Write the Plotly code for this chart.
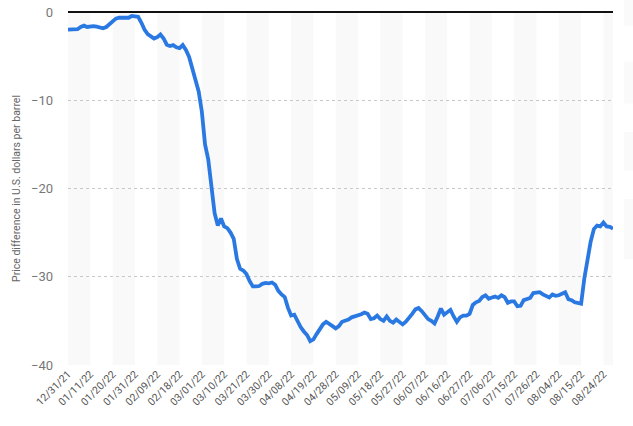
import pandas as pd
import plotly.graph_objects as go

# Trading days (weekdays) covered by the series
dates = [d.strftime("%m/%d/%y") for d in pd.bdate_range("2021-12-31", "2022-08-29")]

values = [
    -2.0, -2.0, -1.95, -1.95, -1.7, -1.55, -1.7, -1.6, -1.6, -1.65,
    -1.75, -1.85, -1.7, -1.4, -1.05, -0.75, -0.65, -0.65, -0.65, -0.65,
    -0.45, -0.45, -0.55, -1.2, -2.0, -2.5, -2.7, -3.0, -2.85, -2.55,
    -3.0, -3.7, -3.85, -3.75, -4.0, -4.1, -3.75, -4.3, -5.1, -6.3,
    -7.5, -9.0, -11.3, -15.0, -16.7, -20.0, -22.8, -24.2, -23.4, -24.3,
    -24.5, -25.0, -25.7, -28.0, -29.1, -29.3, -29.7, -30.5, -31.1, -31.1,
    -31.05, -30.8, -30.7, -30.75, -30.65, -30.9, -31.6, -32.0, -32.3, -33.5,
    -34.4, -34.3, -35.1, -35.7, -36.2, -36.6, -37.3, -37.1, -36.5, -36.0,
    -35.4, -35.1, -35.3, -35.6, -35.85, -35.6, -35.1, -35.0, -34.85, -34.6,
    -34.5, -34.4, -34.25, -34.05, -34.2, -34.8, -34.7, -34.4, -34.8, -35.0,
    -34.5, -35.0, -35.2, -34.85, -35.1, -35.4, -35.1, -34.7, -34.2, -33.7,
    -33.55, -33.9, -34.3, -34.8, -35.0, -35.3, -34.5, -33.6, -34.3, -34.0,
    -33.75, -34.5, -35.1, -34.6, -34.4, -34.4, -34.2, -33.2, -32.9, -32.75,
    -32.3, -32.1, -32.5, -32.35, -32.25, -32.4, -32.1, -32.3, -32.95, -32.8,
    -32.8, -33.35, -33.3, -32.65, -32.5, -32.4, -31.85, -31.75, -31.75, -32.0,
    -32.2, -32.35, -32.0, -32.15, -32.1, -31.9, -31.75, -32.55, -32.65, -32.9,
    -33.0, -33.05, -30.2, -28.0, -26.0, -24.6, -24.2, -24.3, -23.85, -24.3,
    -24.35, -24.55,
]

tick_labels = [
    "12/31/21", "01/11/22", "01/20/22", "01/31/22", "02/09/22", "02/18/22",
    "03/01/22", "03/10/22", "03/21/22", "03/30/22", "04/08/22", "04/19/22",
    "04/28/22", "05/09/22", "05/18/22", "05/27/22", "06/07/22", "06/16/22",
    "06/27/22", "07/06/22", "07/15/22", "07/26/22", "08/04/22", "08/15/22",
    "08/24/22",
]

y_ticks = [0, -10, -20, -30, -40]

n = len(values)
dates = dates[:n]

fig = go.Figure()

# alternating vertical bands between every other pair of tick labels
shapes = []
for k in range(0, len(tick_labels), 2):
    i0 = dates.index(tick_labels[k])
    i1 = dates.index(tick_labels[k + 1]) if k + 1 < len(tick_labels) else n - 1
    shapes.append(dict(type="rect", xref="x", yref="paper", x0=i0, x1=i1,
                       y0=0, y1=1, fillcolor="#f9f9f9", line_width=0, layer="below"))

# faint right-edge page shadow
for (y0, y1) in [(0.96, 1.04), (0.74, 0.86), (0.55, 0.66), (0.30, 0.47)]:
    shapes.append(dict(type="rect", xref="paper", yref="paper", x0=1.02, x1=1.06,
                       y0=y0, y1=y1, fillcolor="rgba(0,0,0,0.02)", line_width=0,
                       layer="above"))

fig.add_trace(go.Scatter(
    x=dates, y=values, mode="lines",
    line=dict(color="#2a79e2", width=3.8, shape="linear"),
    hoverinfo="x+y", showlegend=False,
))

fig.update_layout(
    width=633, height=426,
    margin=dict(l=68, r=20, t=12, b=61),
    paper_bgcolor="white", plot_bgcolor="white",
    font=dict(family="Roboto, Arial, sans-serif", color="#666"),
    shapes=shapes,
    xaxis=dict(
        type="category",
        tickmode="array", tickvals=tick_labels, ticktext=tick_labels,
        tickangle=-45, tickfont=dict(size=10.5, color="#555"),
        showgrid=False, zeroline=False, showline=False,
        range=[0, n - 1], fixedrange=True, automargin=False,
    ),
    yaxis=dict(
        range=[-40, 0], tickvals=y_ticks,
        tickfont=dict(size=13, color="#777"),
        showgrid=True, gridcolor="#c8c8c8", griddash="dot", gridwidth=1,
        zeroline=True, zerolinecolor="#111", zerolinewidth=1.5,
        ticklabelstandoff=14, ticklabeloverflow="allow",
        title=dict(text="Price difference in U.S. dollars per barrel",
                   font=dict(size=10.5, color="#666"), standoff=8),
        automargin=False, fixedrange=True,
    ),
)

fig.write_html("out.html", config={"displayModeBar": False},
               post_script="document.body.style.margin='0';")
